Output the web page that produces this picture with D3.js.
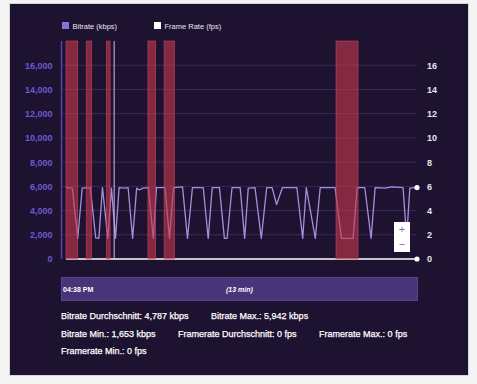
<!DOCTYPE html>
<html>
<head>
<meta charset="utf-8">
<script src="https://cdn.jsdelivr.net/npm/d3@7"></script>
<style>
  html, body { margin: 0; padding: 0; background: #f4f4f4; }
  svg { display: block; font-family: "Liberation Sans", Arial, sans-serif; }
</style>
</head>
<body>
<svg id="chart" width="477" height="384"></svg>
<script>
// bitrate samples: seconds since start, kbps
const bitrateTimes = [0, 14, 26, 36, 54, 66, 73, 81, 93, 101, 110, 118, 130, 138, 148, 157, 163, 171, 183, 194,
  201, 220, 230, 239, 259, 270, 281, 305, 316, 325, 341, 352, 358, 369, 387, 397, 405, 420, 434, 446,
  458, 468, 481, 513, 526, 534, 554, 565, 598, 612, 638, 647, 664, 678, 687, 709, 724, 749, 757, 764, 780];
const bitrateValues = [5900, 5850, 1700, 5850, 5900, 1750, 1700, 5900, 1700, 5850, 1700, 5900, 5850, 5900, 1700, 5850, 5700, 5850, 5900, 1700,
  5900, 5900, 1700, 5900, 5950, 1700, 5900, 5900, 1700, 5900, 5900, 1700, 1700, 5900, 5900, 1700, 5850, 5900, 1700, 5900,
  5900, 4500, 5900, 5900, 1700, 5900, 1700, 5900, 5900, 1700, 1700, 5900, 5900, 1700, 5900, 5850, 5950, 5900, 1700, 5850, 5900];

// frame rate samples
const fpsTimes = [0, 780];
const fpsValues = [0, 0];

// highlighted intervals [start, end] in seconds
const stallStarts = [0, 45, 90, 182, 218, 600];
const stallEnds = [26, 57, 98, 199, 241, 649];
const markerTimes = [107];

const leftTicks = [0, 2000, 4000, 6000, 8000, 10000, 12000, 14000, 16000];
const rightTicks = [0, 2, 4, 6, 8, 10, 12, 14, 16];

const legendLabels = ['Bitrate (kbps)', 'Frame Rate (fps)'];
const startLabel = '04:38 PM';
const durationLabel = '(13 min)';
const statLabels = ['Bitrate Durchschnitt: 4,787 kbps', 'Bitrate Max.: 5,942 kbps', 'Bitrate Min.: 1,653 kbps',
  'Framerate Durchschnitt: 0 fps', 'Framerate Max.: 0 fps', 'Framerate Min.: 0 fps'];

const svg = d3.select('#chart');

// panel
svg.append('rect')
  .attr('x', 9.5).attr('y', 3.5).attr('width', 459).attr('height', 372)
  .attr('fill', '#1d1230').attr('stroke', '#d6d6d6');

const x = d3.scaleLinear().domain([0, 780]).range([66, 417]);
const yL = d3.scaleLinear().domain([0, 18000]).range([259, 41]);
const yR = d3.scaleLinear().domain([0, 18]).range([259, 41]);

// grid
svg.append('g').selectAll('line')
  .data(leftTicks.filter(d => d > 0))
  .enter().append('line')
  .attr('x1', 62).attr('x2', 417)
  .attr('y1', d => yL(d)).attr('y2', d => yL(d))
  .attr('stroke', '#3a2a5c').attr('stroke-width', 1);

// left axis
const leftAxis = svg.append('g')
  .attr('transform', 'translate(61.5,0)')
  .call(d3.axisLeft(yL).tickValues(leftTicks).tickFormat(d3.format(',')).tickSize(0).tickPadding(9));
leftAxis.select('.domain').attr('stroke', '#5a43a8').attr('stroke-width', 1.5).attr('d', `M0,${yL(18000)}V${yL(0)}`);
leftAxis.selectAll('text')
  .attr('fill', '#6e5ad2').style('font-size', '9px').style('font-weight', 'bold')
  .style('font-family', '"Liberation Sans", Arial, sans-serif');

// right axis
const rightAxis = svg.append('g')
  .attr('transform', 'translate(417,0)')
  .call(d3.axisRight(yR).tickValues(rightTicks).tickSize(0).tickPadding(10));
rightAxis.select('.domain').remove();
rightAxis.selectAll('text')
  .attr('fill', '#e6e4f0').style('font-size', '9px').style('font-weight', 'bold')
  .style('font-family', '"Liberation Sans", Arial, sans-serif');

// lines
const bitrate = bitrateTimes.map((t, i) => ({ t, v: bitrateValues[i] }));
const fps = fpsTimes.map((t, i) => ({ t, v: fpsValues[i] }));

svg.append('path')
  .datum(fps)
  .attr('fill', 'none').attr('stroke', '#ffffff').attr('stroke-width', 1.5)
  .attr('d', d3.line().x(d => x(d.t)).y(d => yR(d.v)));

svg.append('path')
  .datum(bitrate)
  .attr('fill', 'none').attr('stroke', '#a58fdc').attr('stroke-width', 1.3)
  .attr('stroke-linejoin', 'round')
  .attr('d', d3.line().x(d => x(d.t)).y(d => yL(d.v)));

// end dots
svg.append('circle').attr('cx', x(bitrate[bitrate.length - 1].t)).attr('cy', yL(bitrate[bitrate.length - 1].v))
  .attr('r', 2.6).attr('fill', '#ffffff');
svg.append('circle').attr('cx', x(fps[fps.length - 1].t)).attr('cy', yR(fps[fps.length - 1].v))
  .attr('r', 2.6).attr('fill', '#ffffff');

// stall bands
svg.append('g').selectAll('rect')
  .data(stallStarts.map((s, i) => [s, stallEnds[i]]))
  .enter().append('rect')
  .attr('x', d => x(d[0])).attr('width', d => x(d[1]) - x(d[0]))
  .attr('y', yL(18000)).attr('height', yL(0) - yL(18000))
  .attr('fill', '#c23a4e').attr('fill-opacity', 0.62)
  .attr('stroke', '#d2485a').attr('stroke-opacity', 0.7).attr('stroke-width', 0.8);

svg.append('g').selectAll('line')
  .data(markerTimes)
  .enter().append('line')
  .attr('x1', d => x(d)).attr('x2', d => x(d))
  .attr('y1', yL(18000)).attr('y2', yL(0))
  .attr('stroke', '#cdbff0').attr('stroke-width', 1);

// legend
const legend = svg.append('g').attr('transform', 'translate(62,22)');
const legendColors = ['#8d6fd8', '#ffffff'];
const legendX = [0, 92];
legendLabels.forEach((l, i) => {
  legend.append('rect').attr('x', legendX[i]).attr('y', 0).attr('width', 7).attr('height', 7)
    .attr('fill', legendColors[i]);
  legend.append('text').attr('x', legendX[i] + 10.5).attr('y', 6.5)
    .attr('fill', '#e8e6f2').style('font-size', '7.5px').text(l);
});

// zoom control
const zoomCtl = svg.append('g').attr('transform', 'translate(394,222)');
zoomCtl.append('rect').attr('width', 16).attr('height', 30).attr('fill', '#ffffff');
zoomCtl.append('text').attr('x', 8).attr('y', 11).attr('text-anchor', 'middle')
  .attr('fill', '#7d68c9').style('font-size', '11px').text('+');
zoomCtl.append('text').attr('x', 8).attr('y', 26).attr('text-anchor', 'middle')
  .attr('fill', '#7d68c9').style('font-size', '11px').text('−');

// time bar
svg.append('rect').attr('x', 61.5).attr('y', 277.5).attr('width', 356).attr('height', 23)
  .attr('fill', '#4a3479').attr('stroke', '#5a4290');
svg.append('text').attr('x', 63).attr('y', 291.5)
  .attr('fill', '#ffffff').style('font-size', '7px').style('font-weight', 'bold').text(startLabel);
svg.append('text').attr('x', 226).attr('y', 291.5)
  .attr('fill', '#ffffff').style('font-size', '7px').style('font-weight', 'bold').style('font-style', 'italic')
  .text(durationLabel);

// statistics, wrapped like inline blocks
const stats = svg.append('g');
let sx = 61, sy = 319;
const gap = 22.5, maxX = 418, lineH = 17.5;
statLabels.forEach(s => {
  const t = stats.append('text').attr('fill', '#ffffff')
    .attr('stroke', '#ffffff').attr('stroke-width', 0.25)
    .style('font-size', '9px').text(s);
  let w = t.node().getComputedTextLength();
  if (sx > 61 && sx + w > maxX) { sx = 61; sy += lineH; }
  t.attr('x', sx).attr('y', sy);
  sx += w + gap;
});
</script>
</body>
</html>
